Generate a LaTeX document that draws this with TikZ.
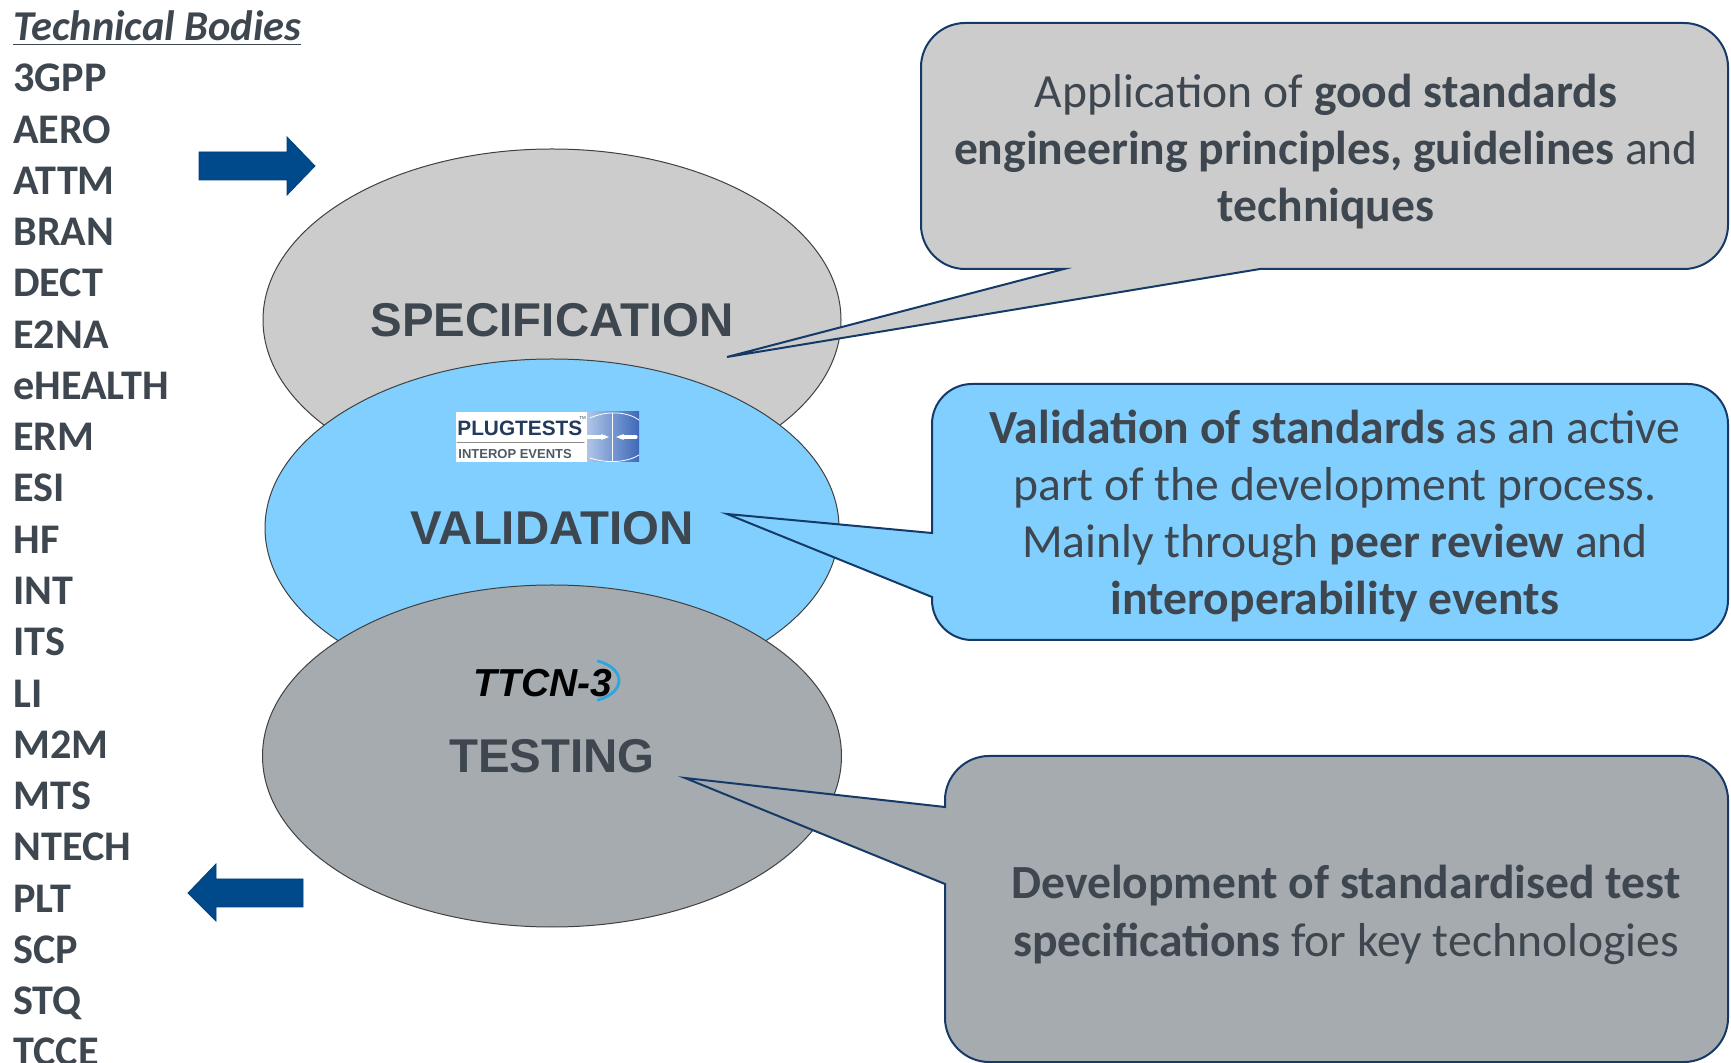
\documentclass[tikz,border=0pt]{standalone}
\usepackage{fontspec}
\setmainfont{Carlito}
\newfontfamily\arialfont{Liberation Sans}
\usetikzlibrary{shapes.geometric}
\usetikzlibrary{arrows.meta}
\definecolor{txtgray}{RGB}{62,71,79}
\definecolor{specgray}{RGB}{204,204,204}
\definecolor{valblue}{RGB}{128,207,255}
\definecolor{testgray}{RGB}{165,171,175}
\definecolor{arrowblue}{RGB}{0,74,140}
\definecolor{edgeblue}{RGB}{22,58,104}
\definecolor{plugnavy}{RGB}{34,58,92}
\definecolor{ttcnblue}{RGB}{40,168,225}
\tikzset{
  bodyname/.style={anchor=base west, inner sep=0pt, text=txtgray, font=\fontsize{21.1}{24}\selectfont\bfseries},
  phase/.style={ellipse, draw=black!75, line width=0.5pt, inner sep=0pt, text=txtgray, font=\arialfont\bfseries\fontsize{23.7}{28}\selectfont},
  bubble/.style={draw=edgeblue, line width=1pt, line join=miter},
  bubbletext/.style={align=center, inner sep=0pt, text=txtgray, font=\fontsize{23.8}{28.65}\selectfont},
  blockarrow/.style={fill=arrowblue, draw=arrowblue!85!black, line width=0.4pt, line join=miter}
}
\begin{document}
\begin{tikzpicture}[line cap=round,line join=round,x=0.5pt,y=-0.5pt]
\useasboundingbox (0,0) rectangle (1731,1063);
% list of technical bodies
\node[bodyname, font=\fontsize{21.25}{24}\selectfont\bfseries\itshape] (title) at (13,41) {\underline{Technical Bodies}};
\foreach \tb [count=\i] in 
{3GPP,AERO,ATTM,BRAN,DECT,E2NA,eHEALTH,ERM,ESI,HF,INT,ITS,LI,M2M,MTS,NTECH,PLT,SCP,STQ,TCCE}
{
    \node[bodyname] (tb\i) at (13,{91.8+51.27*(\i-1)}) {\tb};
};
\filldraw[blockarrow] (199,152) -- (287,152) -- (287,137) -- (315,166) -- (287,195) -- (287,180) -- (199,180) -- cycle;
\filldraw[blockarrow] (303,879) -- (216,879) -- (216,864) -- (188,893) -- (216,921) -- (216,907) -- (303,907) -- cycle;
% the three phases
\node[phase, fill=specgray, minimum width=289pt, minimum height=171pt] (spec) at (552,320) {SPECIFICATION};
\node[phase, fill=valblue, minimum width=287pt, minimum height=169pt] (val) at (552,528) {VALIDATION};
\node[phase, fill=testgray, minimum width=289.5pt, minimum height=171pt] (test) at (552,756) {TESTING};
% logos
\fill[white] (456,412) rectangle (587,462);
\shade[left color={rgb,255:red,175;green,198;blue,232}, right color={rgb,255:red,62;green,104;blue,184}] (587,412) rectangle (639,462);
\draw[white, line width=0.4pt] (590,418) .. controls (608,410) and (628,412) .. (639,420);
\draw[white, line width=0.4pt] (590,458) .. controls (608,464) and (628,462) .. (639,455);
\draw[white, line width=0.5pt] (612,413) -- (612,461);
\draw[white, line width=1.6pt, -{Stealth[length=4pt]}] (585,437) -- (609,437);
\draw[white, line width=1.6pt, -{Stealth[length=4pt]}] (636,437) -- (616,437);
\draw[black!45, line width=0.5pt] (457,443) -- (584,443);
\node[anchor=base west, inner sep=0pt, text=plugnavy, font=\arialfont\bfseries\fontsize{10.4}{10}\selectfont] (plug) at (457,436) {PLUGTESTS};
\node[anchor=base west, inner sep=0pt, text=plugnavy, font=\arialfont\fontsize{2.2}{3}\selectfont] (tm) at (579,420) {TM};
\node[anchor=base west, inner sep=0pt, text={rgb,255:red,80;green,90;blue,100}, font=\arialfont\bfseries\fontsize{6.5}{7}\selectfont] (interop) at (458,459) {INTEROP EVENTS};
\node[anchor=base west, inner sep=0pt, text=black, font=\arialfont\bfseries\itshape\fontsize{19.5}{20}\selectfont] (ttcn) at (473,697) {TTCN-3};
\draw[ttcnblue, line width=1.4pt] (598,661) .. controls (626,669) and (626,692) .. (598,700);
% callouts
\coordinate (specpt) at (727,357);
\coordinate (valpt) at (727,514);
\coordinate (testpt) at (685,778);
\filldraw[bubble, fill=specgray] (1064,269) -- (specpt) -- (1260,269) -- (1684,269) .. controls (1708,269) and (1728,249) .. (1728,225) -- (1728,67) .. controls (1728,43) and (1708,23) .. (1684,23) -- (965,23) .. controls (941,23) and (921,43) .. (921,67) -- (921,225) .. controls (921,249) and (941,269) .. (965,269) -- cycle;
\filldraw[bubble, fill=valblue] (932,533) -- (valpt) -- (932,597) -- (932,600) .. controls (932,622) and (950,640) .. (972,640) -- (1688,640) .. controls (1710,640) and (1728,622) .. (1728,600) -- (1728,424) .. controls (1728,402) and (1710,384) .. (1688,384) -- (972,384) .. controls (950,384) and (932,402) .. (932,424) -- cycle;
\filldraw[bubble, fill=testgray] (945,807) -- (testpt) -- (945,884) -- (945,1018) .. controls (945,1042) and (965,1062) .. (989,1062) -- (1684,1062) .. controls (1708,1062) and (1728,1042) .. (1728,1018) -- (1728,800) .. controls (1728,776) and (1708,756) .. (1684,756) -- (989,756) .. controls (965,756) and (945,776) .. (945,800) -- cycle;
\node[bubbletext] (spectxt) at (1326,151.5) {Application of \textbf{good standards}\\\textbf{engineering principles, guidelines} and\\\textbf{techniques}};
\node[bubbletext] (valtxt) at (1335,516) {\textbf{Validation of standards} as an active\\part of the development process.\\Mainly through \textbf{peer review} and\\\textbf{interoperability events}};
\node[bubbletext] (testtxt) at (1346,915) {\textbf{Development of standardised test}\\\textbf{specifications} for key technologies};
\end{tikzpicture}
\end{document}
